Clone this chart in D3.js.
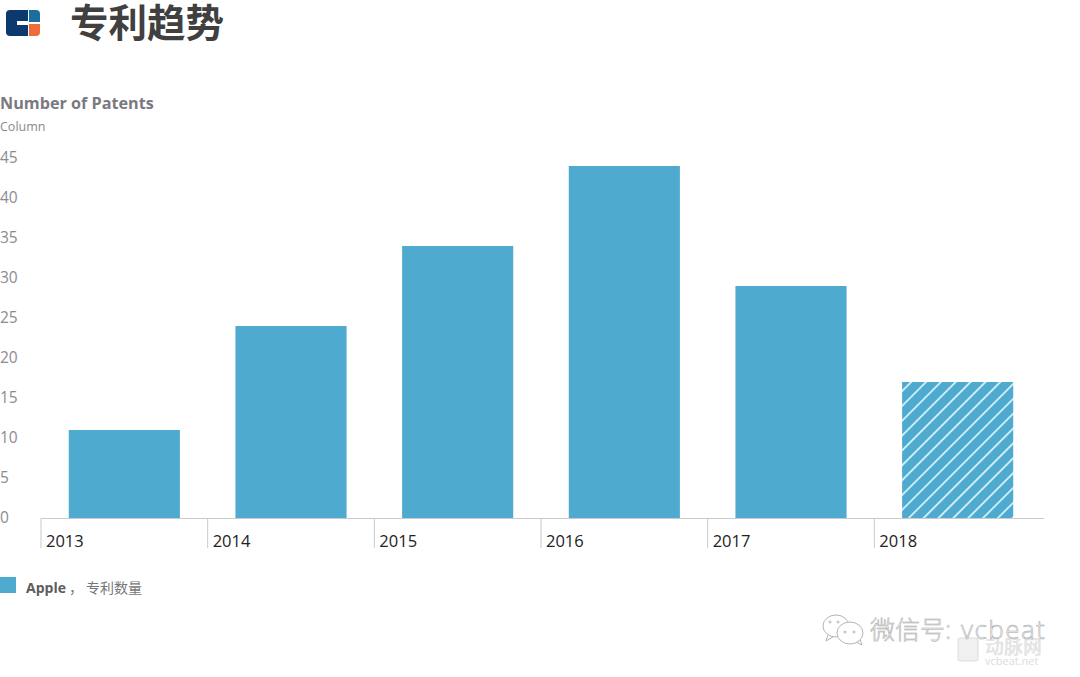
<!DOCTYPE html>
<html>
<head>
<meta charset="utf-8">
<script src="https://cdn.jsdelivr.net/npm/d3@7"></script>
<style>
html, body { margin: 0; padding: 0; background: #fff; }
svg { display: block; }
text { font-family: "Open Sans", "Noto Sans CJK SC", sans-serif; }
</style>
</head>
<body>
<div id="chart"></div>
<script>
var years = ["2013", "2014", "2015", "2016", "2017", "2018"];
var patents = [11, 24, 34, 44, 29, 17];
var hatched = ["2018"];
var yTicks = [0, 5, 10, 15, 20, 25, 30, 35, 40, 45];

var width = 1080, height = 677;
var cjk = '"Noto Sans CJK SC", sans-serif';
var blue = "#4eaacf";

var svg = d3.select("#chart").append("svg").attr("width", width).attr("height", height);

var defs = svg.append("defs");
var hatch = defs.append("pattern")
  .attr("id", "hatch")
  .attr("patternUnits", "userSpaceOnUse")
  .attr("width", 10.5).attr("height", 10.5)
  .attr("patternTransform", "rotate(45)");
hatch.append("rect").attr("width", 10.5).attr("height", 10.5).attr("fill", blue);
hatch.append("rect").attr("x", 0).attr("width", 1.8).attr("height", 10.5).attr("fill", "#d4f1fa");

defs.append("clipPath").attr("id", "logo-clip")
  .append("rect").attr("x", 6).attr("y", 10).attr("width", 34).attr("height", 26).attr("rx", 4);

// logo
var logo = svg.append("g").attr("clip-path", "url(#logo-clip)");
logo.append("rect").attr("x", 6).attr("y", 10).attr("width", 22).attr("height", 26).attr("fill", "#0d3a6e");
logo.append("rect").attr("x", 17).attr("y", 21).attr("width", 11).attr("height", 4).attr("fill", "#fff");
logo.append("rect").attr("x", 29).attr("y", 10).attr("width", 11).attr("height", 12).attr("fill", "#1a6f9c");
logo.append("rect").attr("x", 29).attr("y", 24).attr("width", 11).attr("height", 12).attr("fill", "#ee6c3a");

svg.append("text").attr("x", 70).attr("y", 37)
  .style("font-family", cjk).style("font-size", "38.5px").style("font-weight", 700)
  .attr("fill", "#404040").text("专利趋势");

svg.append("text").attr("x", 0).attr("y", 109)
  .style("font-size", "16.2px").style("font-weight", 700)
  .attr("fill", "#7a797f").text("Number of Patents");
svg.append("text").attr("x", 0).attr("y", 131)
  .style("font-size", "12.5px").attr("fill", "#8a8a8a").text("Column");

var x = d3.scaleBand().domain(years).range([41, 1041]).paddingInner(1 / 3).paddingOuter(1 / 6);
var y = d3.scaleLinear().domain([0, 45]).range([518, 158]);

// y axis, labels only
var yAxis = svg.append("g").call(d3.axisLeft(y).tickValues(yTicks).tickSize(0).tickPadding(0));
yAxis.select(".domain").remove();
yAxis.selectAll("text")
  .attr("x", 0).attr("dy", "0.3em")
  .attr("text-anchor", "start")
  .style("font-family", '"Open Sans", sans-serif')
  .style("font-size", "15.5px").attr("fill", "#8d8b92");

svg.selectAll(".bar").data(years).enter().append("rect")
  .attr("class", "bar")
  .attr("x", function(d) { return x(d); })
  .attr("y", function(d, i) { return y(patents[i]); })
  .attr("width", x.bandwidth())
  .attr("height", function(d, i) { return y(0) - y(patents[i]); })
  .attr("fill", function(d) { return hatched.indexOf(d) >= 0 ? "url(#hatch)" : blue; });

// x axis, ticks sit on the left edge of each band
var xAxis = svg.append("g").attr("transform", "translate(0,518)")
  .call(d3.axisBottom(x).tickSize(30).tickSizeOuter(0));
xAxis.select(".domain").attr("stroke", "#c9c9cf").attr("d", "M41,0.5H1044");
xAxis.selectAll(".tick").attr("transform", function(d) {
  return "translate(" + (x(d) - x.step() / 6) + ",0)";
});
xAxis.selectAll(".tick line").attr("stroke", "#c9c9cf");
xAxis.selectAll(".tick text")
  .attr("x", 5).attr("y", 23).attr("dy", "0.35em")
  .attr("text-anchor", "start")
  .style("font-family", '"Open Sans", sans-serif')
  .style("font-size", "16.5px").attr("fill", "#222");

// legend
svg.append("rect").attr("x", 0).attr("y", 577).attr("width", 16).attr("height", 16).attr("fill", blue);
var legend = svg.append("text").attr("x", 26).attr("y", 593).attr("fill", "#777");
legend.append("tspan").style("font-size", "14px").style("font-weight", 700).attr("fill", "#5c5c60").text("Apple");
legend.append("tspan").attr("dx", 3).style("font-family", cjk).style("font-size", "14px").text("， 专利数量");

// watermark
var mark = svg.append("g").attr("fill", "#fff").attr("stroke", "#b5b5b5").attr("stroke-width", 1);
mark.append("path").attr("d", "M828,635l-2,6l7,-4");
mark.append("ellipse").attr("cx", 836).attr("cy", 626).attr("rx", 13).attr("ry", 11);
mark.append("path").attr("d", "M856,642l6,3l-2,-6");
mark.append("ellipse").attr("cx", 850).attr("cy", 633).attr("rx", 13).attr("ry", 11);
mark.selectAll(".eye").data([[830, 622], [838, 622], [845, 632], [854, 632]]).enter().append("circle")
  .attr("class", "eye")
  .attr("cx", function(d) { return d[0]; }).attr("cy", function(d) { return d[1]; })
  .attr("r", 1);
svg.append("rect").attr("x", 958).attr("y", 638).attr("width", 20).attr("height", 23).attr("rx", 2)
  .attr("fill", "#f0f0f0").attr("stroke", "#dcdcdc");
svg.append("text").attr("x", 985).attr("y", 654)
  .style("font-family", cjk).style("font-size", "19px").style("font-weight", 700)
  .attr("fill", "#e4e4e4").text("动脉网");
svg.append("text").attr("x", 985).attr("y", 665)
  .style("font-family", '"Open Sans", sans-serif').style("font-size", "11px")
  .attr("fill", "#dcdcdc").text("vcbeat.net");
var wx = svg.append("text").attr("x", 870).attr("y", 639)
  .attr("fill", "#f4f4f4").attr("stroke", "#a5a5a5").attr("stroke-width", 0.5);
wx.append("tspan").style("font-family", cjk).style("font-size", "25px").style("font-weight", 300).text("微信号");
wx.append("tspan").style("font-size", "26px").style("font-family", '"Open Sans", sans-serif').style("font-weight", 300).attr("letter-spacing", 1.5).text(": vcbeat");
</script>
</body>
</html>
